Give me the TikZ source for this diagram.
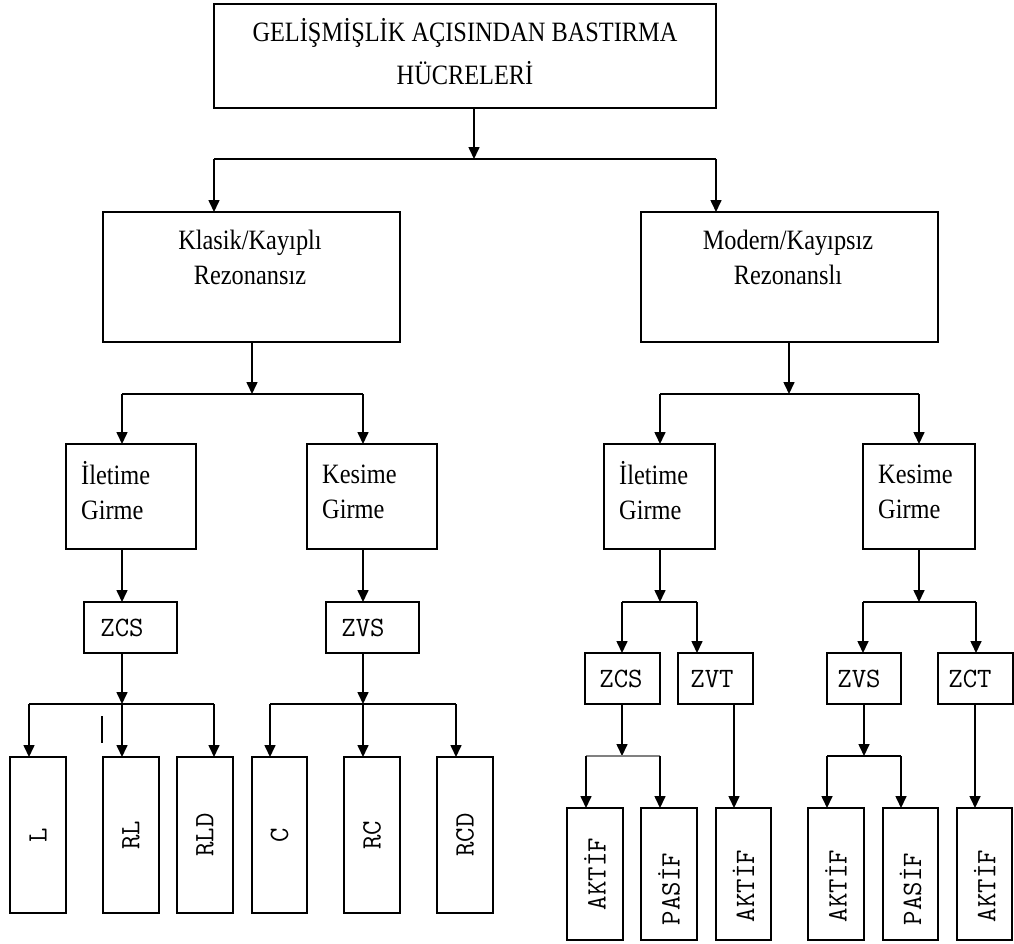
\documentclass[tikz,border=0pt]{standalone}
\usepackage{fontspec}
\setmainfont{Liberation Serif}
\newfontfamily\serifb[FakeStretch=0.87]{Liberation Serif}
\usetikzlibrary{arrows.meta}
\begin{document}
\begin{tikzpicture}[x=1pt,y=-1pt,
  box/.style 2 args={draw,line width=1.6pt,inner sep=0pt,outer sep=0pt,minimum width=#1,minimum height=#2},
  ttl/.style={font=\serifb\fontsize{28}{35}\selectfont,align=center,inner sep=0pt},
  ttll/.style={font=\serifb\fontsize{28}{35}\selectfont,align=left,inner sep=0pt,anchor=west},
  lbl/.style={font=\ttfamily\fontsize{28}{30}\selectfont,inner sep=0pt},
  rot/.style={lbl,rotate=90},
  ln/.style={line width=1.6pt},
  arr/.style={line width=1.6pt,-{Triangle[width=11pt,length=12pt]}}]
\useasboundingbox (0,0) rectangle (1014,943);

% ---------- boxes ----------
\node[box={502pt}{104pt}] (top) at (465,56) {};
\node[box={297pt}{130pt}] (klasik) at (251.5,277) {};
\node[box={297pt}{130pt}] (modern) at (789.5,277) {};
\node[box={130pt}{105pt}] (iletL) at (131,496.5) {};
\node[box={130pt}{105pt}] (kesL) at (372,496.5) {};
\node[box={111pt}{105pt}] (iletR) at (659.5,496.5) {};
\node[box={112pt}{105pt}] (kesR) at (919,496.5) {};
\node[box={93pt}{51pt}] (zcsL) at (130.5,627.5) {};
\node[box={93pt}{51pt}] (zvsL) at (372.5,627.5) {};
\node[box={75pt}{51pt}] (zcsR) at (622.5,678.5) {};
\node[box={75pt}{51pt}] (zvt) at (715.5,678.5) {};
\node[box={74pt}{51pt}] (zvsR) at (864,678.5) {};
\node[box={75pt}{51pt}] (zct) at (975.5,678.5) {};
\node[box={56pt}{156pt}] (L) at (38,835) {};
\node[box={56pt}{156pt}] (RL) at (131,835) {};
\node[box={56pt}{156pt}] (RLD) at (205,835) {};
\node[box={55pt}{156pt}] (C) at (279.5,835) {};
\node[box={56pt}{156pt}] (RC) at (372,835) {};
\node[box={56pt}{156pt}] (RCD) at (465,835) {};
\node[box={56pt}{132pt}] (a1) at (595,874) {};
\node[box={56pt}{132pt}] (p1) at (669,874) {};
\node[box={55pt}{132pt}] (a2) at (743.5,874) {};
\node[box={56pt}{132pt}] (a3) at (836,874) {};
\node[box={55pt}{132pt}] (p2) at (910.5,874) {};
\node[box={55pt}{132pt}] (a4) at (984.5,874) {};

% ---------- texts ----------
\node[ttl,font=\serifb\fontsize{28}{43}\selectfont] (ttop) at (465,52) {GELİŞMİŞLİK AÇISINDAN BASTIRMA\\HÜCRELERİ};
\node[ttl] (tklasik) at (250,257) {Klasik/Kayıplı\\Rezonansız};
\node[ttl] (tmodern) at (788,257) {Modern/Kayıpsız\\Rezonanslı};
\node[ttll] (tiletL) at (81,491) {İletime\\Girme};
\node[ttll] (tkesL) at (322,492) {Kesime\\Girme};
\node[ttll] (tiletR) at (619,491) {İletime\\Girme};
\node[ttll] (tkesR) at (878,492) {Kesime\\Girme};
\node[lbl] (tzcsL) at (122,628) {ZCS};
\node[lbl] (tzvsL) at (363,628) {ZVS};
\node[lbl] (tzcsR) at (621,679) {ZCS};
\node[lbl] (tzvt) at (712,679) {ZVT};
\node[lbl] (tzvsR) at (859,679) {ZVS};
\node[lbl] (tzct) at (970,679) {ZCT};
\node[rot] (tL) at (L) {L};
\node[rot] (tRL) at (RL) {RL};
\node[rot] (tRLD) at (RLD) {RLD};
\node[rot] (tC) at (C) {C};
\node[rot] (tRC) at (RC) {RC};
\node[rot] (tRCD) at (RCD) {RCD};
\node[rot] (ta1) at (595,874) {AKTİF};
\node[rot] (tp1) at (669,889) {PASİF};
\node[rot] (ta2) at (743.5,886) {AKTİF};
\node[rot] (ta3) at (836,886) {AKTİF};
\node[rot] (tp2) at (910.5,889) {PASİF};
\node[rot] (ta4) at (984.5,886) {AKTİF};

% ---------- junctions ----------
\coordinate (j0) at (474,159);
\coordinate (j0L) at (214,159);
\coordinate (j0R) at (716,159);
\coordinate (j1) at (252,394);
\coordinate (j1L) at (122,394);
\coordinate (j1R) at (363,394);
\coordinate (j2) at (122,704);
\coordinate (j2L) at (29,704);
\coordinate (j2R) at (214,704);
\coordinate (j3) at (363,704);
\coordinate (j3L) at (270,704);
\coordinate (j3R) at (456,704);
\coordinate (j4) at (789,394);
\coordinate (j4L) at (660,394);
\coordinate (j4R) at (919,394);
\coordinate (j5) at (660,602);
\coordinate (j5L) at (622,602);
\coordinate (j5R) at (697,602);
\coordinate (j6) at (622,756);
\coordinate (j6L) at (586,756);
\coordinate (j6R) at (660,756);
\coordinate (j7) at (919,602);
\coordinate (j7L) at (863,602);
\coordinate (j7R) at (976,602);
\coordinate (j8) at (864,756);
\coordinate (j8L) at (827,756);
\coordinate (j8R) at (901,756);
\coordinate (xzvt) at (734,704);
\coordinate (xzct) at (975,704);

% ---------- connectors ----------
\draw[arr] (top.south -| j0) -- (j0);
\draw[ln] (j0L) -- (j0R);
\draw[arr] (j0L) -- (j0L |- klasik.north);
\draw[arr] (j0R) -- (j0R |- modern.north);

\draw[arr] (klasik.south -| j1) -- (j1);
\draw[ln] (j1L) -- (j1R);
\draw[arr] (j1L) -- (j1L |- iletL.north);
\draw[arr] (j1R) -- (j1R |- kesL.north);
\draw[arr] (iletL.south -| j1L) -- (zcsL.north -| j1L);
\draw[arr] (kesL.south -| j1R) -- (zvsL.north -| j1R);

\draw[arr] (zcsL.south -| j2) -- (j2);
\draw[ln] (j2L) -- (j2R);
\draw[arr] (j2L) -- (j2L |- L.north);
\draw[arr] (j2) -- (j2 |- RL.north);
\draw[arr] (j2R) -- (j2R |- RLD.north);
\draw[line width=2.6pt] (102,716) -- (102,743);

\draw[arr] (zvsL.south -| j3) -- (j3);
\draw[ln] (j3L) -- (j3R);
\draw[arr] (j3L) -- (j3L |- C.north);
\draw[arr] (j3) -- (j3 |- RC.north);
\draw[arr] (j3R) -- (j3R |- RCD.north);

\draw[arr] (modern.south -| j4) -- (j4);
\draw[ln] (j4L) -- (j4R);
\draw[arr] (j4L) -- (j4L |- iletR.north);
\draw[arr] (j4R) -- (j4R |- kesR.north);

\draw[arr] (iletR.south -| j5) -- (j5);
\draw[ln] (j5L) -- (j5R);
\draw[arr] (j5L) -- (j5L |- zcsR.north);
\draw[arr] (j5R) -- (j5R |- zvt.north);
\draw[arr] (zcsR.south -| j6) -- (j6);
\draw[ln,gray] (j6L) -- (j6R);
\draw[arr] (j6L) -- (j6L |- a1.north);
\draw[arr] (j6R) -- (j6R |- p1.north);
\draw[arr] (zvt.south -| xzvt) -- (xzvt |- a2.north);

\draw[arr] (kesR.south -| j7) -- (j7);
\draw[ln] (j7L) -- (j7R);
\draw[arr] (j7L) -- (j7L |- zvsR.north);
\draw[arr] (j7R) -- (j7R |- zct.north);
\draw[arr] (zvsR.south -| j8) -- (j8);
\draw[ln] (j8L) -- (j8R);
\draw[arr] (j8L) -- (j8L |- a3.north);
\draw[arr] (j8R) -- (j8R |- p2.north);
\draw[arr] (zct.south -| xzct) -- (xzct |- a4.north);
\end{tikzpicture}
\end{document}
